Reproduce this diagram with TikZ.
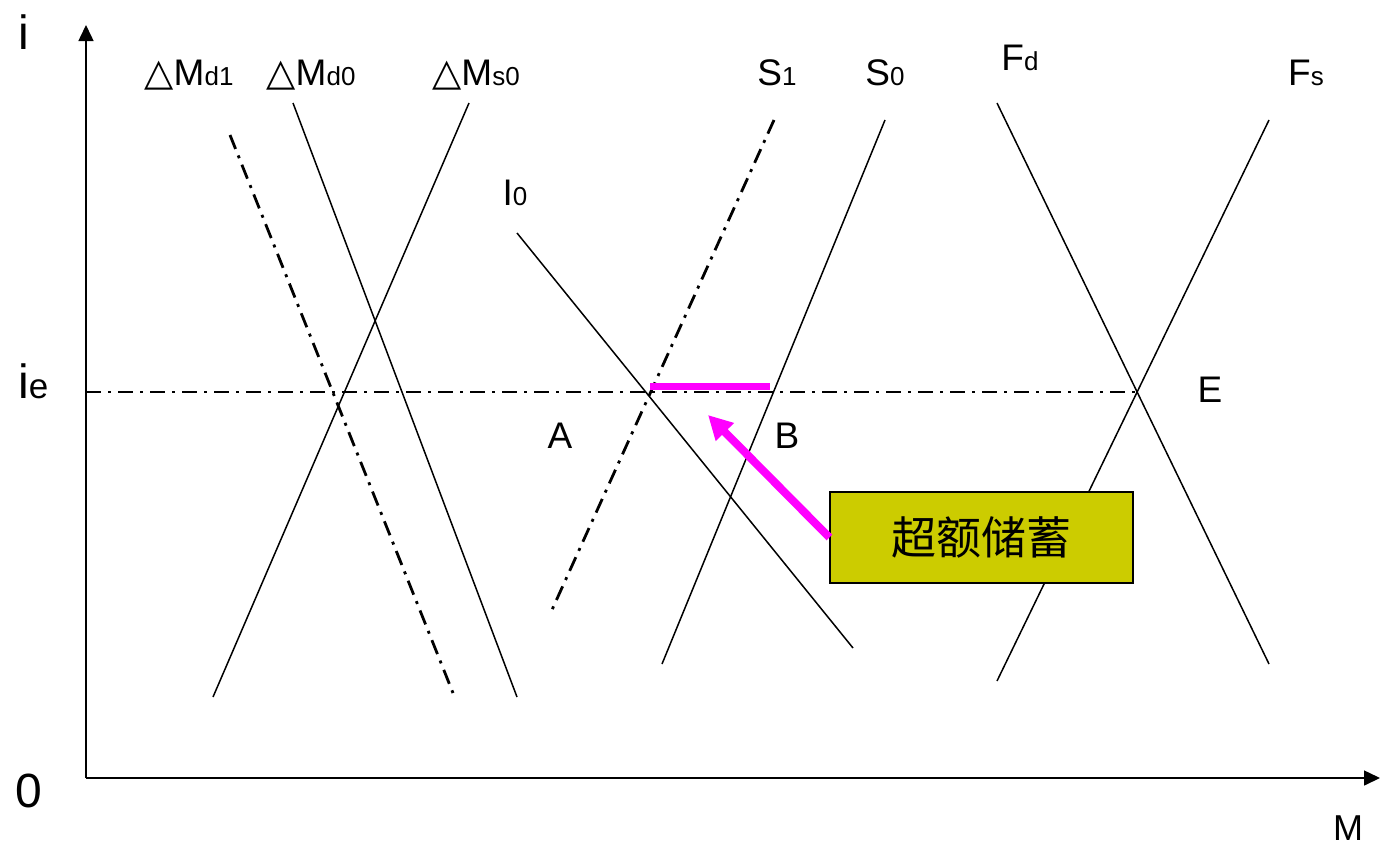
\documentclass[tikz,border=0pt]{standalone}
\usepackage{fontspec}
\setmainfont{Liberation Sans}
\newfontfamily\axfont{Liberation Sans}
\newfontfamily\djfont{DejaVu Sans}
\newfontfamily\cjk{Noto Sans CJK SC}
\usetikzlibrary{arrows.meta}
\definecolor{magline}{RGB}{255,0,255}
\definecolor{boxfill}{RGB}{204,204,0}
\newcommand{\sbs}[1]{{\fontsize{26}{26}\selectfont #1}}
\newcommand{\tri}{{\djfont\fontsize{38}{38}\selectfont △}}
\begin{document}
\begin{tikzpicture}[x=1pt,y=-1pt,
  lbl/.style={font=\fontsize{37}{40}\selectfont, inner sep=0pt, anchor=base},
  axlbl/.style={font=\axfont\fontsize{48}{50}\selectfont, inner sep=0pt, anchor=base west},
  curve/.style={line width=1.5pt, black},
  dashcurve/.style={line width=2.8pt, black, dash pattern=on 15pt off 7pt on 3pt off 7pt},
  axis/.style={line width=1.5pt, -{Triangle[length=16pt,width=15pt]}},
  magbar/.style={line width=7pt, magline},
  magarrow/.style={line width=8pt, magline, -{Triangle[length=24pt,width=24pt]}},
  notebox/.style={draw=black, line width=1.2pt, fill=boxfill, minimum width=303pt, minimum height=91pt, inner sep=0pt, font=\cjk\fontsize{45}{45}\selectfont}
]
\useasboundingbox (0,0) rectangle (1380,849);
% axes
\coordinate (O) at (86,778);
\coordinate (ytop) at (86,25);
\coordinate (xend) at (1380,778);
\draw[axis] (O) -- (ytop);
\draw[axis] (O) -- (xend);
\node[axlbl] (li) at (18,49) {i};
\node[axlbl] (l0) at (15,807) {0};
\node[axlbl, font=\axfont\fontsize{36}{38}\selectfont] (lM) at (1333,840) {M};
\node[axlbl] (lie) at (18,398) {i{\fontsize{35}{35}\selectfont e}};
% ie line
\coordinate (ie1) at (86,392);
\coordinate (ie2) at (1140,392);
\draw[dashcurve] (ie1) -- (ie2);
% curves
\coordinate (md1a) at (230,135); \coordinate (md1b) at (453,693);
\coordinate (md0a) at (293,103); \coordinate (md0b) at (517,697);
\coordinate (ms0a) at (469,103); \coordinate (ms0b) at (213,697);
\coordinate (i0a) at (517,233); \coordinate (i0b) at (853,648);
\coordinate (s1a) at (774,120); \coordinate (s1b) at (551,612);
\coordinate (s0a) at (885,120); \coordinate (s0b) at (662,664);
\coordinate (fda) at (997,103); \coordinate (fdb) at (1269,664);
\coordinate (fsa) at (1269,120); \coordinate (fsb) at (997,681);
\draw[dashcurve] (md1a) -- (md1b);
\draw[curve] (md0a) -- (md0b);
\draw[curve] (ms0a) -- (ms0b);
\draw[curve] (i0a) -- (i0b);
\draw[dashcurve] (s1a) -- (s1b);
\draw[curve] (s0a) -- (s0b);
\draw[curve] (fda) -- (fdb);
\draw[curve] (fsa) -- (fsb);
% labels
\node[lbl] (lmd1) at (189,85) {\tri M\sbs{d1}};
\node[lbl] (lmd0) at (311,85) {\tri M\sbs{d0}};
\node[lbl] (lms0) at (476,85) {\tri M\sbs{s0}};
\node[lbl] (ls1) at (777,85) {S\sbs{1}};
\node[lbl] (ls0) at (885,85) {S\sbs{0}};
\node[lbl] (lfd) at (1020,70) {F\sbs{d}};
\node[lbl] (lfs) at (1306,85) {F\sbs{s}};
\node[lbl] (li0) at (515,205) {I\sbs{0}};
\node[lbl] (lA) at (560,448) {A};
\node[lbl] (lB) at (787,448) {B};
\node[lbl] (lE) at (1210,402) {E};
% excess savings
\coordinate (bar1) at (650,386);
\coordinate (bar2) at (770,386);
\draw[magbar] (bar1) -- (bar2);
\node[notebox] (box) at (981.5,537.5) {超额储蓄};
\coordinate (tip) at (708,415);
\draw[magarrow] (box.west) -- (tip);
\end{tikzpicture}
\end{document}
